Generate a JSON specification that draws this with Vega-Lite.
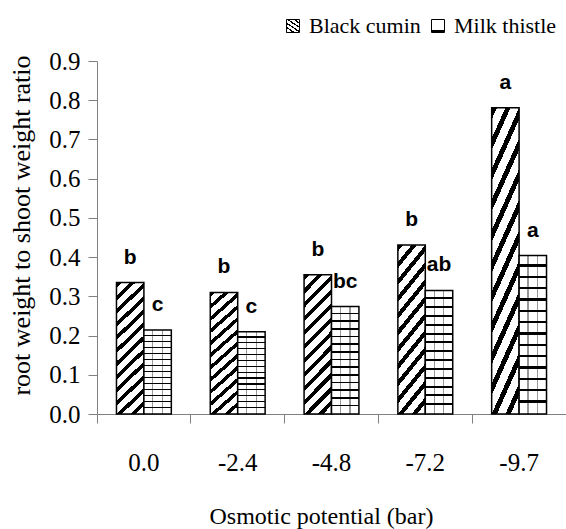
{
  "$schema": "https://vega.github.io/schema/vega-lite/v6.json",
  "width": 469,
  "height": 353,
  "autosize": {"type": "none"},
  "padding": {"left": 97, "top": 61, "right": 0, "bottom": 115},
  "background": "white",
  "config": {"view": {"stroke": null}, "font": "'Liberation Serif', 'Times New Roman', Times, serif"},
  "params": [
    {"name": "hatch", "expr": "{gradient: 'linear', x1: 0, y1: 0, x2: 0.23077, y2: 1.15385, stops: [{offset: 0, color: '#000'}, {offset: 0.032, color: '#000'}, {offset: 0.032, color: '#fff'}, {offset: 0.0833, color: '#fff'}, {offset: 0.0833, color: '#000'}, {offset: 0.1153, color: '#000'}, {offset: 0.1153, color: '#fff'}, {offset: 0.1667, color: '#fff'}, {offset: 0.1667, color: '#000'}, {offset: 0.1987, color: '#000'}, {offset: 0.1987, color: '#fff'}, {offset: 0.25, color: '#fff'}, {offset: 0.25, color: '#000'}, {offset: 0.282, color: '#000'}, {offset: 0.282, color: '#fff'}, {offset: 0.3333, color: '#fff'}, {offset: 0.3333, color: '#000'}, {offset: 0.3653, color: '#000'}, {offset: 0.3653, color: '#fff'}, {offset: 0.4167, color: '#fff'}, {offset: 0.4167, color: '#000'}, {offset: 0.4487, color: '#000'}, {offset: 0.4487, color: '#fff'}, {offset: 0.5, color: '#fff'}, {offset: 0.5, color: '#000'}, {offset: 0.532, color: '#000'}, {offset: 0.532, color: '#fff'}, {offset: 0.5833, color: '#fff'}, {offset: 0.5833, color: '#000'}, {offset: 0.6153, color: '#000'}, {offset: 0.6153, color: '#fff'}, {offset: 0.6667, color: '#fff'}, {offset: 0.6667, color: '#000'}, {offset: 0.6987, color: '#000'}, {offset: 0.6987, color: '#fff'}, {offset: 0.75, color: '#fff'}, {offset: 0.75, color: '#000'}, {offset: 0.782, color: '#000'}, {offset: 0.782, color: '#fff'}, {offset: 0.8333, color: '#fff'}, {offset: 0.8333, color: '#000'}, {offset: 0.8653, color: '#000'}, {offset: 0.8653, color: '#fff'}, {offset: 0.9167, color: '#fff'}, {offset: 0.9167, color: '#000'}, {offset: 0.9487, color: '#000'}, {offset: 0.9487, color: '#fff'}, {offset: 1, color: '#fff'}]}"},
    {"name": "brick", "expr": "{gradient: 'linear', x1: 0, y1: 0, x2: 0, y2: 1, stops: [{offset: 0, color: '#fff'}, {offset: 0.0557, color: '#fff'}, {offset: 0.0557, color: '#000'}, {offset: 0.0714, color: '#000'}, {offset: 0.0714, color: '#fff'}, {offset: 0.1272, color: '#fff'}, {offset: 0.1272, color: '#000'}, {offset: 0.1429, color: '#000'}, {offset: 0.1429, color: '#fff'}, {offset: 0.1986, color: '#fff'}, {offset: 0.1986, color: '#000'}, {offset: 0.2143, color: '#000'}, {offset: 0.2143, color: '#fff'}, {offset: 0.27, color: '#fff'}, {offset: 0.27, color: '#000'}, {offset: 0.2857, color: '#000'}, {offset: 0.2857, color: '#fff'}, {offset: 0.3414, color: '#fff'}, {offset: 0.3414, color: '#000'}, {offset: 0.3571, color: '#000'}, {offset: 0.3571, color: '#fff'}, {offset: 0.4129, color: '#fff'}, {offset: 0.4129, color: '#000'}, {offset: 0.4286, color: '#000'}, {offset: 0.4286, color: '#fff'}, {offset: 0.4843, color: '#fff'}, {offset: 0.4843, color: '#000'}, {offset: 0.5, color: '#000'}, {offset: 0.5, color: '#fff'}, {offset: 0.5557, color: '#fff'}, {offset: 0.5557, color: '#000'}, {offset: 0.5714, color: '#000'}, {offset: 0.5714, color: '#fff'}, {offset: 0.6272, color: '#fff'}, {offset: 0.6272, color: '#000'}, {offset: 0.6429, color: '#000'}, {offset: 0.6429, color: '#fff'}, {offset: 0.6986, color: '#fff'}, {offset: 0.6986, color: '#000'}, {offset: 0.7143, color: '#000'}, {offset: 0.7143, color: '#fff'}, {offset: 0.77, color: '#fff'}, {offset: 0.77, color: '#000'}, {offset: 0.7857, color: '#000'}, {offset: 0.7857, color: '#fff'}, {offset: 0.8414, color: '#fff'}, {offset: 0.8414, color: '#000'}, {offset: 0.8571, color: '#000'}, {offset: 0.8571, color: '#fff'}, {offset: 0.9129, color: '#fff'}, {offset: 0.9129, color: '#000'}, {offset: 0.9286, color: '#000'}, {offset: 0.9286, color: '#fff'}, {offset: 1, color: '#fff'}]}"},
    {"name": "joints", "expr": "{gradient: 'linear', x1: 0, y1: 0, x2: 1, y2: 0, stops: [{offset: 0, color: 'rgba(0,0,0,0)'}, {offset: 0.3, color: 'rgba(0,0,0,0)'}, {offset: 0.3, color: 'rgba(0,0,0,0.4)'}, {offset: 0.35, color: 'rgba(0,0,0,0.4)'}, {offset: 0.35, color: 'rgba(0,0,0,0)'}, {offset: 0.65, color: 'rgba(0,0,0,0)'}, {offset: 0.65, color: 'rgba(0,0,0,0.4)'}, {offset: 0.7, color: 'rgba(0,0,0,0.4)'}, {offset: 0.7, color: 'rgba(0,0,0,0)'}, {offset: 1, color: 'rgba(0,0,0,0)'}]}"}
  ],
  "data": {
    "values": [
      {"potential": "0.0", "species": "Black cumin", "ratio": 0.335, "letter": "b"},
      {"potential": "-2.4", "species": "Black cumin", "ratio": 0.31, "letter": "b"},
      {"potential": "-4.8", "species": "Black cumin", "ratio": 0.355, "letter": "b"},
      {"potential": "-7.2", "species": "Black cumin", "ratio": 0.431, "letter": "b"},
      {"potential": "-9.7", "species": "Black cumin", "ratio": 0.781, "letter": "a"},
      {"potential": "0.0", "species": "Milk thistle", "ratio": 0.214, "letter": "c"},
      {"potential": "-2.4", "species": "Milk thistle", "ratio": 0.21, "letter": "c"},
      {"potential": "-4.8", "species": "Milk thistle", "ratio": 0.274, "letter": "bc"},
      {"potential": "-7.2", "species": "Milk thistle", "ratio": 0.315, "letter": "ab"},
      {"potential": "-9.7", "species": "Milk thistle", "ratio": 0.404, "letter": "a"}
    ]
  },
  "encoding": {
    "x": {
      "field": "potential", "type": "nominal",
      "sort": ["0.0", "-2.4", "-4.8", "-7.2", "-9.7"],
      "scale": {"paddingInner": 0, "paddingOuter": 0},
      "axis": {
        "title": "Osmotic potential (bar)",
        "labelAngle": 0, "bandPosition": 0,
        "ticks": true, "tickSize": 9, "tickColor": "#808080", "domainColor": "#808080",
        "labelFont": "'Liberation Serif', 'Times New Roman', Times, serif", "labelFontSize": 25, "labelColor": "black", "labelPadding": 27,
        "titleFont": "'Liberation Serif', 'Times New Roman', Times, serif", "titleFontSize": 24, "titleFontWeight": "normal", "titleColor": "black",
        "titleX": 224, "titleY": 109, "titleBaseline": "alphabetic", "titleAlign": "center", "grid": false
      }
    },
    "xOffset": {
      "field": "species", "type": "nominal",
      "scale": {"domain": ["Black cumin", "Milk thistle"], "paddingInner": 0, "paddingOuter": 0.71}
    },
    "y": {
      "field": "ratio", "type": "quantitative",
      "scale": {"domain": [0, 0.9], "nice": false},
      "axis": {
        "title": "root weight to shoot weight ratio",
        "values": [0, 0.1, 0.2, 0.3, 0.4, 0.5, 0.6, 0.7, 0.8, 0.9],
        "format": ".1f", "tickSize": 9, "tickColor": "#808080", "domainColor": "#808080",
        "labelFont": "'Liberation Serif', 'Times New Roman', Times, serif", "labelFontSize": 25, "labelColor": "black", "labelPadding": 8,
        "titleFont": "'Liberation Serif', 'Times New Roman', Times, serif", "titleFontSize": 26, "titleFontWeight": "normal", "titleColor": "black",
        "titleX": -68, "titleY": 164, "titleBaseline": "alphabetic", "titleAlign": "center", "grid": false
      }
    }
  },
  "layer": [
    {
      "mark": {"type": "bar", "stroke": "black", "strokeWidth": 1.5},
      "encoding": {
        "fill": {
          "field": "species", "type": "nominal",
          "scale": {
            "domain": ["Black cumin", "Milk thistle"],
            "range": [{"expr": "hatch"}, {"expr": "brick"}]
          },
          "legend": {
            "orient": "none", "legendX": 185, "legendY": -46, "direction": "horizontal", "title": null,
            "symbolType": "square", "symbolSize": 169, "symbolStrokeColor": "black", "symbolStrokeWidth": 1,
            "labelFont": "'Liberation Serif', 'Times New Roman', Times, serif", "labelFontSize": 22, "labelColor": "black",
            "labelOffset": 5, "columnPadding": 6, "padding": 0, "labelLimit": 300
          }
        }
      }
    },
    {
      "transform": [{"filter": "datum.species === 'Milk thistle'"}],
      "mark": {"type": "bar", "strokeWidth": 0, "fill": {"expr": "joints"}}
    },
    {
      "mark": {"type": "text", "font": "'Liberation Sans', Arial, sans-serif", "fontWeight": "bold", "fontSize": 21, "baseline": "alphabetic", "align": "center", "dy": -19, "color": "black"},
      "encoding": {"text": {"field": "letter", "type": "nominal"}}
    }
  ]
}
